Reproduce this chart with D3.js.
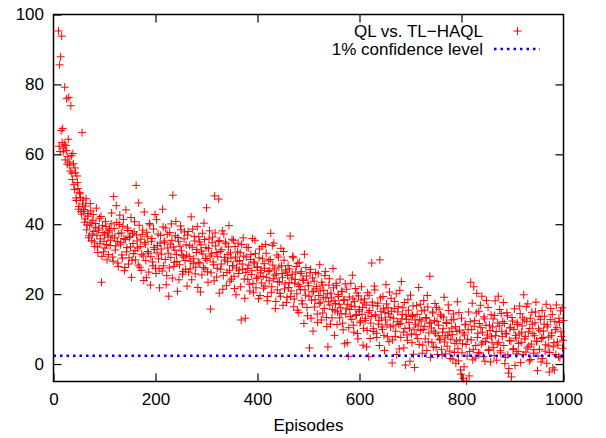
<!DOCTYPE html>
<html>
<head>
<meta charset="utf-8">
<script src="https://cdn.jsdelivr.net/npm/d3@7"></script>
<style>
  body { margin: 0; background: #fff; }
  text { font-family: "Liberation Sans", Arial, Helvetica, sans-serif; fill: #000; }
</style>
</head>
<body>
<div id="chart"></div>
<script>
// even episodes 10..1000
const diffsEven = [
  95.3,85.6,87.9,93.8,67.4,61.8,79.2,62.5,75.9,59.3,76.3,57.8,73.9,54.6,60.2,51.3,56.1,47.5,53.8,50.2,45.1,48.7,43.6,66.2,46.9,
  44.2,41.5,47.3,39.8,43.1,36.7,45.9,40.4,37.2,42.8,34.9,39.1,44.6,33.5,38.3,41.7,35.8,23.4,39.6,32.1,36.9,40.8,34.2,37.5,31.3,
  38.7,35.4,43.2,30.6,47.9,36.1,33.8,40.5,28.9,37.3,42.6,34.7,31.2,39.4,35.9,27.6,44.1,33.3,38.2,30.4,36.6,41.9,29.7,34.5,37.8,
  32.4,51.1,35.2,28.3,39.7,33.6,26.8,37.1,30.9,43.5,34.3,24.7,36.4,31.7,40.2,22.6,35.1,29.2,38.6,32.8,27.4,41.3,33.9,30.1,21.8,
  36.8,31.4,44.3,28.1,34.7,38.9,25.3,33.2,19.4,37.6,30.5,35.4,48.3,27.9,32.6,40.8,29.3,36.2,24.1,33.7,38.4,31.1,26.5,35.8,29.6,
  34.1,22.3,37.9,30.8,27.2,42.1,33.4,28.7,36.5,25.8,31.9,39.3,29.1,34.9,20.6,32.3,37.4,27.6,35.6,30.2,44.7,26.4,33.1,38.1,15.7,
  31.5,36.3,28.4,48.1,33.8,24.9,30.7,47.2,35.3,27.1,32.7,21.4,37.2,29.8,34.4,26.2,31.3,39.6,23.7,30.3,35.7,28.2,25.1,33.6,19.8,
  29.4,34.6,26.9,31.8,12.6,28.6,36.1,24.3,13.1,30.6,27.3,33.3,22.8,29.9,25.6,35.9,20.4,28.9,31.6,24.5,27.8,18.7,32.9,26.1,23.2,
  30.1,21.7,27.4,34.2,24.8,19.3,29.5,26.7,37.4,22.1,28.3,34.6,25.4,17.9,31.2,23.6,27.7,20.2,33.1,25.9,16.8,29.7,22.9,26.3,19.1,
  28.2,23.3,36.6,20.9,25.7,30.4,18.6,24.2,27.9,15.4,22.7,29.1,21.3,26.4,17.2,23.9,31.4,19.7,25.2,13.8,22.4,4.6,27.1,18.3,24.6,
  20.8,16.3,26.2,22.2,11.9,19.6,28.4,17.7,23.4,14.6,21.1,25.3,18.9,10.7,4.9,22.6,16.9,20.3,13.2,27.3,18.1,15.2,23.1,11.3,19.9,
  17.1,24.3,14.4,20.7,9.8,18.4,22.9,15.8,6.1,2.2,19.2,13.6,16.6,25.4,11.1,17.9,21.6,14.1,8.7,19.5,15.6,12.3,22.1,16.2,10.2,
  18.6,13.1,4.9,20.4,2.1,15.3,11.7,28.9,16.8,9.3,21.2,13.8,7.6,17.4,12.5,29.8,15.1,10.6,19.3,8.2,14.7,22.7,11.2,16.1,6.4,
  13.4,18.8,0.3,10.9,15.9,7.9,20.1,12.1,16.4,4.3,11.6,23.6,14.2,9.1,17.6,-0.3,12.8,6.8,15.4,10.3,19.7,8.6,13.9,2.8,-1.0,
  11.4,16.7,7.3,21.9,12.7,9.6,15.2,5.4,18.2,10.8,13.3,3.9,16.3,8.9,25.1,11.8,6.2,14.6,9.4,17.3,4.7,12.2,8.1,15.7,6.9,
  13.7,2.6,10.1,19.1,7.7,11.9,5.1,16.9,9.2,1.6,12.6,8.4,14.3,3.3,10.7,6.6,17.8,0.9,9.7,-1.7,13.1,5.8,-4.1,8.3,11.2,
  -4.9,7.1,14.9,3.6,23.4,9.9,1.2,22.1,12.4,5.3,20.2,8.8,15.1,3.1,10.4,19.4,6.3,13.5,0.8,11.1,7.4,16.2,4.2,9.6,14.1,
  6.1,12.9,2.4,18.1,9.3,5.7,19.4,10.9,3.8,14.4,7.9,17.6,11.6,1.9,8.6,13.8,-2.6,6.7,10.5,-3.7,12.3,4.4,15.8,8.2,2.9,
  11.3,5.9,16.6,0.4,9.1,13.2,19.8,7.2,3.4,12.1,17.2,5.1,10.2,1.3,14.8,8.7,4.1,11.8,17.7,6.4,2.3,13.6,9.5,0.6,15.3,
  7.6,11.4,3.7,17.1,10.6,5.2,-2.3,12.7,8.1,14.2,4.9,-1.7,9.8,16.9,6.3,2.1,11.9,15.2,7.9,4.5,12.4
]
// odd episodes 11..999
const diffsOdd = [
  62.3,60.8,66.8,63.4,60.7,62.9,58.4,61.1,57.2,64.3,56.9,55.2,59.6,52.8,57.3,49.9,54.7,46.8,51.9,44.3,49.1,47.6,42.9,45.8,43.7,
  40.6,45.2,38.4,42.3,36.1,39.7,43.8,35.3,41.1,37.9,33.6,40.2,36.8,31.9,38.9,34.4,42.2,30.8,37.6,35.1,33.2,39.3,29.8,36.3,38.1,
  33.9,40.1,36.7,29.4,38.8,32.6,45.3,35.1,27.9,39.9,34.1,37.5,30.3,41.4,26.7,35.6,32.1,38.9,28.6,36.2,33.5,24.8,37.3,31.6,40.7,
  29.8,36.9,33.2,46.1,27.7,35.7,31.4,38.3,23.9,34.8,29.6,37.7,32.2,26.3,39.8,30.7,35.9,28.1,33.4,42.8,25.9,31.8,37.2,27.3,34.6,
  32.9,26.6,39.2,35.2,29.9,22.7,37.1,31.7,27.5,34.3,40.1,24.6,33.5,29.1,36.7,31.3,20.8,35.1,28.4,39.5,32.4,25.7,30.6,37.8,27.1,
  31.2,36.9,26.3,33.9,29.4,24.1,38.6,30.1,35.2,27.7,32.8,21.9,36.4,28.9,34.1,25.5,31.5,40.3,27.2,33.3,29.7,23.4,35.8,30.9,26.1,
  34.7,29.2,23.8,37.5,31.9,27.4,35.1,20.3,32.2,28.6,38.1,25.3,30.5,34.9,22.4,29.3,33.5,26.8,31.8,24.3,28.1,35.4,21.6,30.6,27.5,
  32.1,25.9,29.6,22.1,34.2,27.1,30.9,18.8,26.2,33.4,24.2,28.3,20.9,31.3,26.7,23.1,29.2,35.4,21.8,27.6,24.9,30.4,19.6,26.8,33.6,
  25.1,28.7,22.3,31.7,18.1,26.5,23.8,29.9,20.5,33.9,24.4,27.2,15.9,25.8,21.2,30.6,23.4,19.4,28.1,24.7,32.2,21.5,26.9,17.6,25.3,
  21.9,27.2,19.3,24.6,30.8,16.4,23.1,26.3,20.1,28.8,14.7,22.2,25.9,18.1,24.3,11.6,21.2,27.6,16.2,23.2,19.4,26.1,13.1,20.7,9.4,
  23.7,18.4,21.5,14.3,25.8,17.3,20.9,12.6,22.6,19.1,15.9,26.5,13.3,20.1,17.8,24.4,11.4,18.9,15.6,21.8,8.2,17.3,22.4,14.9,19.3,
  13.2,16.1,20.8,11.7,18.2,5.8,14.3,21.4,17.1,10.4,15.6,23.1,12.8,18.6,9.1,16.4,13.9,20.3,7.2,15.1,11.8,18.3,14.2,5.4,17.5,
  12.4,16.9,9.6,14.8,19.7,7.3,13.6,17.7,10.1,22.3,14.1,8.8,16.6,11.4,5.3,18.9,13.2,9.9,15.8,3.9,12.6,17.2,7.8,14.4,20.6,
  10.6,15.1,6.9,13.1,17.9,9.4,2.7,14.9,11.3,21.1,7.6,12.9,16.1,4.6,10.2,14.1,8.3,18.4,11.9,0.8,13.6,6.1,16.6,9.8,12.6,
  8.4,14.2,10.9,5.6,17.1,12.3,3.1,9.9,15.4,7.2,13.1,19.6,6.3,11.7,1.9,10.3,14.9,4.9,12.4,8.8,16.2,2.7,11.1,7.1,14.1,
  4.2,9.1,13.4,6.3,2.9,11.6,8.2,15.3,3.7,7.1,10.3,1.4,12.8,5.9,0.2,9.3,4.4,14.7,6.9,-2.9,3.2,8.9,-0.8,11.4,5.6,
  2.3,9.8,-3.4,12.1,6.9,17.4,4.1,10.8,1.7,14.6,7.6,3.3,11.6,16.8,5.7,9.1,2.1,12.9,6.4,18.2,8.3,3.9,11.1,0.6,7.8,
  10.6,4.7,13.9,8.1,1.1,11.7,6.2,15.6,3.2,9.4,12.1,5.3,0.1,8.8,14.7,2.6,-1.3,10.3,6.6,13.3,4.1,9.9,-0.4,7.4,11.8,
  3.6,8.6,14.4,6.2,10.9,2.7,12.6,7.9,16.4,4.6,9.2,0.9,13.1,5.7,11.4,3.1,8.1,14.9,6.6,-1.9,10.1,4.2,12.8,7.3,1.6,
  9.4,13.7,5.5,0.2,11.2,7.7,3.3,15.9,8.9,-1.1,6.1,12.2,2.7,10.4,5.4,13.1,1.8,9.2,16.1,6.8
]
const confidenceLevel = 2.4
const xTicks = [0, 200, 400, 600, 800, 1000]
const yTicks = [0, 20, 40, 60, 80, 100]
const legendLabels = ["QL vs. TL\u2212HAQL", "1% confidence level"]

const width = 606, height = 438
const plotLeft = 53.5, plotRight = 563.5, plotTop = 14.5, plotBottom = 381.5
const fontSize = 17

const points = []
diffsEven.forEach((v, i) => points.push({ episode: 10 + 2 * i, value: v }))
diffsOdd.forEach((v, i) => points.push({ episode: 11 + 2 * i, value: v }))
points.sort((a, b) => a.episode - b.episode)

const xScale = d3.scaleLinear().domain([0, 1000]).range([plotLeft, plotRight])
const yScale = d3.scaleLinear().domain([-5, 100]).range([plotBottom, plotTop])

const svg = d3.select("#chart")
              .append("svg")
              .attr("width", width)
              .attr("height", height)

// points
const arm = 4
const marks = svg.append("g")
                 .attr("stroke", "#ff0000")
                 .attr("stroke-width", 1)
                 .attr("fill", "none")
marks.selectAll("path")
     .data(points)
     .join("path")
     .attr("d", d => {
       const cx = xScale(d.episode), cy = yScale(d.value)
       return `M${cx - arm},${cy}H${cx + arm}M${cx},${cy - arm}V${cy + arm}`
     })

// confidence line
svg.append("line")
   .attr("x1", plotLeft).attr("x2", plotRight)
   .attr("y1", yScale(confidenceLevel)).attr("y2", yScale(confidenceLevel))
   .attr("stroke", "#0000ff")
   .attr("stroke-width", 2.5)
   .attr("stroke-dasharray", "2.5,4")

// axes, ticks pointing inward
const xAxis = d3.axisBottom(xScale).tickValues(xTicks).tickSize(-8).tickPadding(11.5).tickFormat(d3.format("d"))
const yAxis = d3.axisLeft(yScale).tickValues(yTicks).tickSize(-8).tickPadding(9.5)
svg.append("g")
   .attr("transform", "translate(0," + plotBottom + ")")
   .call(xAxis)
svg.append("g")
   .attr("transform", "translate(" + plotLeft + ",0)")
   .call(yAxis)
svg.append("g")
   .attr("transform", "translate(0," + plotTop + ")")
   .call(d3.axisTop(xScale).tickValues(xTicks.slice(1, -1)).tickSize(-8).tickFormat(""))
svg.append("g")
   .attr("transform", "translate(" + plotRight + ",0)")
   .call(d3.axisRight(yScale).tickValues(yTicks.slice(0, -1)).tickSize(-8).tickFormat(""))
svg.selectAll(".domain").remove()
svg.selectAll(".tick line").attr("stroke", "#000").attr("stroke-width", 1.2)
svg.selectAll(".tick text")
   .style("font-family", '"Liberation Sans", Arial, Helvetica, sans-serif')
   .style("font-size", fontSize + "px")
   .attr("fill", "#000")

// frame
svg.append("rect")
   .attr("x", plotLeft).attr("y", plotTop)
   .attr("width", plotRight - plotLeft).attr("height", plotBottom - plotTop)
   .attr("fill", "none")
   .attr("stroke", "#000")
   .attr("stroke-width", 1.5)

// x label
svg.append("text")
   .attr("x", (plotLeft + plotRight) / 2)
   .attr("y", 431)
   .attr("text-anchor", "middle")
   .style("font-size", fontSize + "px")
   .text("Episodes")

// legend
const legend = svg.append("g")
legend.append("text")
      .attr("x", 483).attr("y", 37)
      .attr("text-anchor", "end")
      .style("font-size", fontSize + "px")
      .text(legendLabels[0])
legend.append("path")
      .attr("d", `M${517.5 - arm},31H${517.5 + arm}M517.5,${31 - arm}V${31 + arm}`)
      .attr("stroke", "#ff0000")
      .attr("stroke-width", 1)
legend.append("text")
      .attr("x", 483).attr("y", 55)
      .attr("text-anchor", "end")
      .style("font-size", fontSize + "px")
      .text(legendLabels[1])
legend.append("line")
      .attr("x1", 494).attr("x2", 540)
      .attr("y1", 49).attr("y2", 49)
      .attr("stroke", "#0000ff")
      .attr("stroke-width", 2.5)
      .attr("stroke-dasharray", "2.5,4")
</script>
</body>
</html>
